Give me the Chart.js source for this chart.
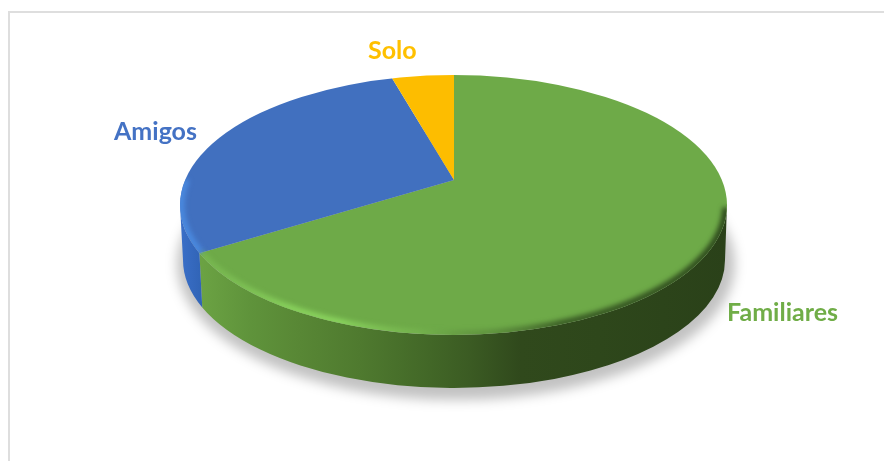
<!DOCTYPE html>
<html lang="es">
<head>
<meta charset="UTF-8">
<title>Compañía</title>
<script src="https://cdnjs.cloudflare.com/ajax/libs/Chart.js/4.4.0/chart.umd.min.js"></script>
<style>
    html, body { margin: 0; background: #fff; overflow: hidden; }
    #frame {
        position: absolute; left: 8px; top: 11px; right: -4px; bottom: -4px;
        border: 2px solid #dedede;
    }
    #chart_parent { position: absolute; left: 0; top: 0; width: 884px; height: 461px; }
</style>
</head>
<body>
<div id="frame"></div>
<div id="chart_parent"><canvas id="myChart" width="884" height="461"></canvas></div>
<script>
    const categories = ['Familiares', 'Amigos', 'Solo'];
    const shares = [66.7, 28.6, 4.7];
    const sliceColors = ['#6eaa48', '#4170bf', '#fdbd00'];
    const labelColors = ['#70ad47', '#4472c4', '#ffc000'];
    const labelSpots = [[727, 321], [114, 140], [368, 59]];

    // disc geometry on screen: top rim, bottom rim, and where the slices meet
    const rim = { x: 453.5, y: 205, rx: 273.5, ry: 130 };
    const base = { x: 454, y: 260, rx: 271, ry: 128 };
    const apex = { x: 454, y: 180 };
    const squash = 0.5;
    const zoom = 1.8;

    // where a slice edge (chart angle) hits the top rim, as an ellipse parameter
    function rimParam(angle) {
        const dx = Math.cos(angle), dy = Math.sin(angle) * squash;
        const ox = (apex.x - rim.x) / rim.rx, oy = (apex.y - rim.y) / rim.ry;
        const ux = dx / rim.rx, uy = dy / rim.ry;
        const a = ux * ux + uy * uy, b = 2 * (ox * ux + oy * uy), c = ox * ox + oy * oy - 1;
        const s = (-b + Math.sqrt(b * b - 4 * a * c)) / (2 * a);
        return Math.atan2(oy + uy * s, ox + ux * s);
    }

    function wall(ctx, from, to) {
        ctx.beginPath();
        ctx.ellipse(rim.x, rim.y, rim.rx, rim.ry, 0, from, to);
        ctx.ellipse(base.x, base.y, base.rx, base.ry, 0, to, from, true);
        ctx.closePath();
    }

    function hGradient(ctx, stops) {
        const g = ctx.createLinearGradient(180, 0, 727, 0);
        stops.forEach(s => g.addColorStop((s[0] - 180) / 547, s[1]));
        return g;
    }

    const disc3d = {
        id: 'disc3d',
        beforeDatasetsDraw(chart) {
            const ctx = chart.ctx;
            const arcs = chart.getDatasetMeta(0).data;
            const split = rimParam(arcs[0].endAngle);

            // soft shadow under the disc
            ctx.save();
            ctx.filter = 'blur(6px)';
            ctx.fillStyle = 'rgba(0,0,0,0.24)';
            ctx.beginPath();
            ctx.ellipse(base.x + 2, base.y + 4, base.rx + 8, base.ry + 8, 0, 0, Math.PI * 2);
            ctx.fill();
            ctx.restore();

            // side walls
            ctx.fillStyle = hGradient(ctx, [
                [202, '#6ba243'], [250, '#5f933b'], [300, '#588735'], [360, '#4f7a2f'],
                [430, '#426727'], [470, '#3b5b23'], [520, '#30491c'], [600, '#2e471b'], [727, '#2a4119']
            ]);
            wall(ctx, 0, split);
            ctx.fill();
            ctx.fillStyle = hGradient(ctx, [[180, '#3a6fc8'], [205, '#2f62b3']]);
            wall(ctx, split, Math.PI);
            ctx.fill();

            // top face: the pie itself, squashed around the apex and cut by the rim
            ctx.save();
            ctx.beginPath();
            ctx.ellipse(rim.x, rim.y, rim.rx, rim.ry, 0, 0, Math.PI * 2);
            ctx.clip();
            ctx.translate(apex.x, apex.y);
            ctx.scale(zoom, zoom * squash);
            ctx.translate(-arcs[0].x, -arcs[0].y);
        },
        afterDatasetsDraw(chart) {
            const ctx = chart.ctx;
            ctx.restore();
            const split = rimParam(chart.getDatasetMeta(0).data[0].endAngle);

            // bevel along the rim: light at front left, dark at the right
            ctx.save();
            ctx.beginPath();
            ctx.ellipse(rim.x, rim.y, rim.rx, rim.ry, 0, 0, Math.PI * 2);
            ctx.clip();
            ctx.filter = 'blur(2.5px)';
            ctx.lineWidth = 7;
            ctx.strokeStyle = hGradient(ctx, [
                [205, 'rgba(125,190,85,0.6)'], [290, 'rgba(140,215,95,0.9)'], [340, 'rgba(140,215,95,0.95)'],
                [420, 'rgba(125,190,85,0.45)'], [490, 'rgba(60,90,40,0.3)'], [560, 'rgba(40,65,25,0.75)'],
                [727, 'rgba(40,65,25,0.95)']
            ]);
            ctx.beginPath();
            ctx.ellipse(rim.x, rim.y, rim.rx - 1, rim.ry - 1, 0, 0.02, split);
            ctx.stroke();
            ctx.strokeStyle = '#4a8ae0';
            ctx.beginPath();
            ctx.ellipse(rim.x, rim.y, rim.rx - 1, rim.ry - 1, 0, split, Math.PI + 0.2);
            ctx.stroke();
            ctx.restore();

            // slice names
            ctx.save();
            ctx.font = 'bold 25px Lato, "Open Sans", sans-serif';
            ctx.textBaseline = 'alphabetic';
            categories.forEach((name, i) => {
                ctx.fillStyle = labelColors[i];
                ctx.fillText(name, labelSpots[i][0], labelSpots[i][1]);
            });
            ctx.restore();
        }
    };

    const myChart = new Chart(document.getElementById('myChart').getContext('2d'), {
        type: 'pie',
        data: {
            labels: categories,
            datasets: [{
                data: shares,
                backgroundColor: sliceColors,
                borderWidth: 0
            }]
        },
        options: {
            responsive: false,
            animation: false,
            events: [],
            plugins: { legend: { display: false }, tooltip: { enabled: false } }
        },
        plugins: [disc3d]
    });
</script>
</body>
</html>
